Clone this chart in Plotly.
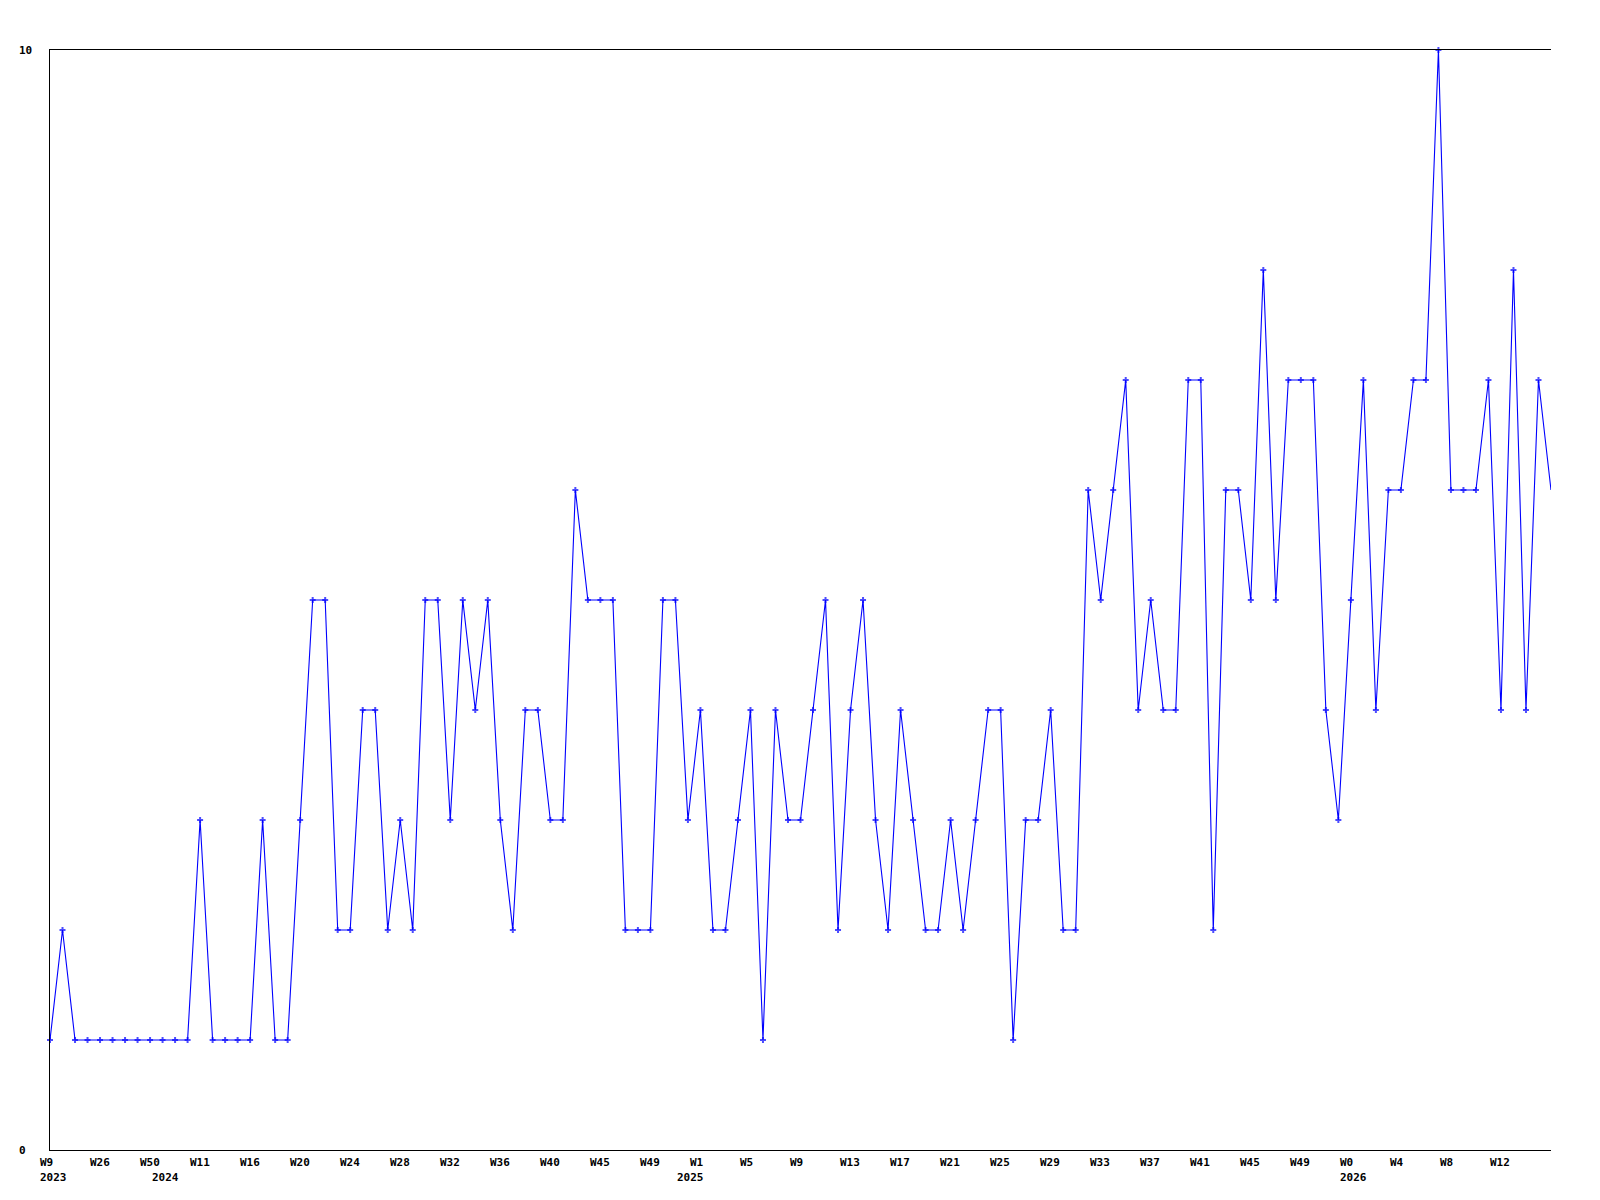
import plotly.graph_objects as go

# Weekly counts (one point per week index)
values = [1, 2, 1, 1, 1, 1, 1, 1, 1, 1, 1, 1, 3, 1, 1, 1, 1, 3, 1, 1,
          3, 5, 5, 2, 2, 4, 4, 2, 3, 2, 5, 5, 3, 5, 4, 5, 3, 2, 4, 4,
          3, 3, 6, 5, 5, 5, 2, 2, 2, 5, 5, 3, 4, 2, 2, 3, 4, 1, 4, 3,
          3, 4, 5, 2, 4, 5, 3, 2, 4, 3, 2, 2, 3, 2, 3, 4, 4, 1, 3, 3,
          4, 2, 2, 6, 5, 6, 7, 4, 5, 4, 4, 7, 7, 2, 6, 6, 5, 8, 5, 7,
          7, 7, 4, 3, 5, 7, 4, 6, 6, 7, 7, 10, 6, 6, 6, 7, 4, 8, 4, 7,
          6]

# Week tick labels, one every 4 points
week_labels = ["W9", "W26", "W50", "W11", "W16", "W20", "W24", "W28", "W32", "W36",
               "W40", "W45", "W49", "W1", "W5", "W9", "W13", "W17", "W21", "W25",
               "W29", "W33", "W37", "W41", "W45", "W49", "W0", "W4", "W8", "W12"]
week_step = 4

# Year labels and the point index where each year starts
year_labels = ["2023", "2024", "2025", "2026"]
year_start_idx = [0, 9, 51, 104]

y_labels = ["0", "10"]
y_values = [0, 10]

x = list(range(len(values)))
marker_sizes = [5] * (len(values) - 1) + [0]

fig = go.Figure()
fig.add_trace(go.Scatter(
    x=x, y=values, mode="lines+markers",
    line=dict(color="#0000ff", width=1.1),
    marker=dict(symbol="cross", size=marker_sizes, color="#0000ff", line=dict(width=0)),
    cliponaxis=False,
    showlegend=False,
    hoverinfo="skip",
))

font = dict(family="DejaVu Sans Mono", size=11, color="black", weight="bold")
annotations = []
for i, lab in enumerate(week_labels):
    annotations.append(dict(
        x=i * week_step, xref="x", y=0, yref="paper",
        text=lab, showarrow=False, xanchor="left", yanchor="middle",
        xshift=-12.5, yshift=-12, font=font))
for lab, idx in zip(year_labels, year_start_idx):
    annotations.append(dict(
        x=idx, xref="x", y=0, yref="paper",
        text=lab, showarrow=False, xanchor="left", yanchor="middle",
        xshift=-12.5, yshift=-27, font=font))
for lab, val in zip(y_labels, y_values):
    annotations.append(dict(
        x=0, xref="paper", y=val, yref="y",
        text=lab, showarrow=False, xanchor="left", yanchor="middle",
        xshift=-33, font=font))

# page body adds an 8px margin, so the figure is shrunk/offset to match
fig.update_layout(
    width=1592, height=1192,
    margin=dict(l=42, r=49, t=42, b=50),
    paper_bgcolor="white", plot_bgcolor="white",
    annotations=annotations,
    xaxis=dict(range=[0, len(values) - 1], showgrid=False, zeroline=False,
               showline=True, linecolor="black", linewidth=1, mirror=True,
               showticklabels=False, ticks=""),
    yaxis=dict(range=[0, 10], showgrid=False, zeroline=False,
               showline=True, linecolor="black", linewidth=1, mirror=False,
               showticklabels=False, ticks=""),
)

fig.write_html("out.html")
